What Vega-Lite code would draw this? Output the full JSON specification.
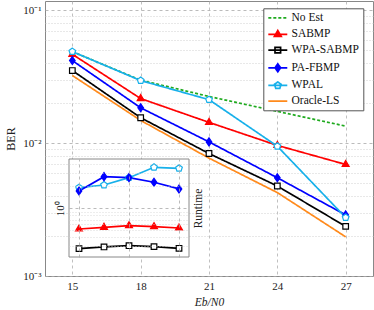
{
  "$schema": "https://vega.github.io/schema/vega-lite/v6.json",
  "width": 328,
  "height": 275,
  "autosize": "none",
  "padding": {"left": 45, "top": 1, "right": 1, "bottom": 34},
  "background": "white",
  "config": {
    "font": "Liberation Serif",
    "view": {"stroke": "#888", "strokeWidth": 1},
    "axis": {
      "labelFont": "Liberation Serif",
      "labelFontSize": 11,
      "labelColor": "#222",
      "titleFont": "Liberation Serif",
      "titleFontSize": 12,
      "titleFontWeight": "normal",
      "titleColor": "#222",
      "domain": false,
      "ticks": false,
      "gridColor": "#b0b0b0",
      "gridWidth": 0.8
    }
  },
  "datasets": {
    "ber": [
      {"series": "No Est", "snr": 15, "ber": 0.0487},
      {"series": "No Est", "snr": 18, "ber": 0.0297},
      {"series": "No Est", "snr": 21, "ber": 0.0224},
      {"series": "No Est", "snr": 24, "ber": 0.0173},
      {"series": "No Est", "snr": 27, "ber": 0.0134},
      {"series": "SABMP", "snr": 15, "ber": 0.0465},
      {"series": "SABMP", "snr": 18, "ber": 0.0216},
      {"series": "SABMP", "snr": 21, "ber": 0.0143},
      {"series": "SABMP", "snr": 24, "ber": 0.0096},
      {"series": "SABMP", "snr": 27, "ber": 0.0069},
      {"series": "WPA-SABMP", "snr": 15, "ber": 0.0351},
      {"series": "WPA-SABMP", "snr": 18, "ber": 0.0155},
      {"series": "WPA-SABMP", "snr": 21, "ber": 0.00834},
      {"series": "WPA-SABMP", "snr": 24, "ber": 0.00475},
      {"series": "WPA-SABMP", "snr": 27, "ber": 0.00236},
      {"series": "PA-FBMP", "snr": 15, "ber": 0.0417},
      {"series": "PA-FBMP", "snr": 18, "ber": 0.0184},
      {"series": "PA-FBMP", "snr": 21, "ber": 0.0102},
      {"series": "PA-FBMP", "snr": 24, "ber": 0.00548},
      {"series": "PA-FBMP", "snr": 27, "ber": 0.00288},
      {"series": "WPAL", "snr": 15, "ber": 0.0487},
      {"series": "WPAL", "snr": 18, "ber": 0.0295},
      {"series": "WPAL", "snr": 21, "ber": 0.0212},
      {"series": "WPAL", "snr": 24, "ber": 0.00946},
      {"series": "WPAL", "snr": 27, "ber": 0.00275},
      {"series": "Oracle-LS", "snr": 15, "ber": 0.0322},
      {"series": "Oracle-LS", "snr": 18, "ber": 0.0148},
      {"series": "Oracle-LS", "snr": 21, "ber": 0.0077},
      {"series": "Oracle-LS", "snr": 24, "ber": 0.00424},
      {"series": "Oracle-LS", "snr": 27, "ber": 0.00197}
    ],
    "runtime": [
      {"series": "WPAL", "snr": 15, "runtime": 1.915},
      {"series": "WPAL", "snr": 18, "runtime": 2.085},
      {"series": "WPAL", "snr": 21, "runtime": 2.625},
      {"series": "WPAL", "snr": 24, "runtime": 3.64},
      {"series": "WPAL", "snr": 27, "runtime": 3.53},
      {"series": "PA-FBMP", "snr": 15, "runtime": 1.726},
      {"series": "PA-FBMP", "snr": 18, "runtime": 2.71},
      {"series": "PA-FBMP", "snr": 21, "runtime": 2.63},
      {"series": "PA-FBMP", "snr": 24, "runtime": 2.27},
      {"series": "PA-FBMP", "snr": 27, "runtime": 1.84},
      {"series": "SABMP", "snr": 15, "runtime": 0.52},
      {"series": "SABMP", "snr": 18, "runtime": 0.549},
      {"series": "SABMP", "snr": 21, "runtime": 0.578},
      {"series": "SABMP", "snr": 24, "runtime": 0.56},
      {"series": "SABMP", "snr": 27, "runtime": 0.537},
      {"series": "WPA-SABMP", "snr": 15, "runtime": 0.28},
      {"series": "WPA-SABMP", "snr": 18, "runtime": 0.295},
      {"series": "WPA-SABMP", "snr": 21, "runtime": 0.307},
      {"series": "WPA-SABMP", "snr": 24, "runtime": 0.298},
      {"series": "WPA-SABMP", "snr": 27, "runtime": 0.283}
    ]
  },
  "layer": [
    {
      "data": {"name": "ber"},
      "encoding": {
        "x": {
          "field": "snr", "type": "quantitative",
          "scale": {"domain": [13.8, 28.2], "nice": false, "zero": false},
          "axis": {"values": [15, 18, 21, 24, 27], "title": "Eb/N0", "titleFontStyle": "italic", "titleFontSize": 11.5, "grid": true, "gridDash": [3, 3], "labelPadding": 4, "titlePadding": 5}
        },
        "y": {
          "field": "ber", "type": "quantitative",
          "scale": {"type": "log", "domain": [0.001, 0.117], "nice": false},
          "axis": {
            "values": [0.001, 0.002, 0.003, 0.004, 0.005, 0.006, 0.007, 0.008, 0.009, 0.01, 0.02, 0.03, 0.04, 0.05, 0.06, 0.07, 0.08, 0.09, 0.1],
            "labelExpr": "datum.value == 0.1 ? '10⁻¹' : datum.value == 0.01 ? '10⁻²' : datum.value == 0.001 ? '10⁻³' : ''",
            "title": "BER", "titlePadding": 5, "labelPadding": 4,
            "grid": true,
            "gridDash": {"condition": {"test": "datum.value == 0.1 || datum.value == 0.01 || datum.value == 0.001", "value": [3, 3]}, "value": [1, 2]},
            "gridColor": {"condition": {"test": "datum.value == 0.1 || datum.value == 0.01 || datum.value == 0.001", "value": "#aaaaaa"}, "value": "#c4c4c4"}
          }
        }
      },
      "layer": [
        {
          "mark": {"type": "line", "strokeWidth": 1.7},
          "encoding": {
            "color": {
              "field": "series", "type": "nominal",
              "scale": {"domain": ["No Est", "SABMP", "WPA-SABMP", "PA-FBMP", "WPAL", "Oracle-LS"], "range": ["#1faa1f", "#ff0000", "#000000", "#0000ff", "#17b0ea", "#ff8a1c"]},
              "legend": {
                "title": null, "orient": "none", "legendX": 218.3, "legendY": 7.3,
                "fillColor": "white", "strokeColor": "#555", "padding": 3.5, "cornerRadius": 0,
                "symbolSize": 90, "symbolStrokeWidth": 1.7, "symbolOffset": 5, "labelOffset": 7.7,
                "labelFont": "Liberation Serif", "labelFontSize": 11.5, "labelColor": "#111", "rowPadding": 2.66,
                "encode": {"symbols": {"update": {
                  "shape": {"signal": "datum.value === 'SABMP' ? 'M-2,0H2M0,-0.84L0.73,0.42L-0.73,0.42Z' : datum.value === 'WPA-SABMP' ? 'M-2,0H2M-0.59,-0.59H0.59V0.59H-0.59Z' : datum.value === 'PA-FBMP' ? 'M-2,0H2M0,-0.84L0.59,0L0,0.84L-0.59,0Z' : datum.value === 'WPAL' ? 'M-2,0H2M0,-0.74L0.7,-0.23L0.43,0.6L-0.43,0.6L-0.7,-0.23Z' : 'M-2,0H2'"},
                  "fill": {"signal": "datum.value === 'SABMP' ? '#ff0000' : datum.value === 'PA-FBMP' ? '#0000ff' : datum.value === 'WPA-SABMP' || datum.value === 'WPAL' ? '#ffffff' : 'transparent'"},
                  "strokeDash": {"signal": "datum.value === 'No Est' ? [3, 2] : [1, 0]"}
                }}}
              }
            },
            "strokeDash": {
              "field": "series", "type": "nominal",
              "scale": {"domain": ["No Est", "SABMP", "WPA-SABMP", "PA-FBMP", "WPAL", "Oracle-LS"], "range": [[3, 2], [1, 0], [1, 0], [1, 0], [1, 0], [1, 0]]},
              "legend": null
            }
          }
        },
        {
          "transform": [{"filter": "datum.series != 'No Est' && datum.series != 'Oracle-LS'"}],
          "mark": {"type": "point", "size": 64, "strokeWidth": 1.2, "opacity": 1},
          "encoding": {
            "shape": {
              "field": "series", "type": "nominal",
              "scale": {"domain": ["SABMP", "WPA-SABMP", "PA-FBMP", "WPAL"], "range": ["M0,-1L0.866,0.5L-0.866,0.5Z", "M-0.7,-0.7H0.7V0.7H-0.7Z", "M0,-1L0.7,0L0,1L-0.7,0Z", "M0,-0.875L0.832,-0.27L0.514,0.708L-0.514,0.708L-0.832,-0.27Z"]},
              "legend": null
            },
            "fill": {
              "field": "series", "type": "nominal",
              "scale": {"domain": ["SABMP", "WPA-SABMP", "PA-FBMP", "WPAL"], "range": ["#ff0000", "#ffffff", "#0000ff", "#ffffff"]},
              "legend": null
            },
            "stroke": {
              "field": "series", "type": "nominal",
              "scale": {"domain": ["SABMP", "WPA-SABMP", "PA-FBMP", "WPAL"], "range": ["#ff0000", "#000000", "#0000ff", "#17b0ea"]},
              "legend": null
            }
          }
        }
      ]
    },
    {
      "layer": [
        {
          "data": {"name": "runtime"},
          "transform": [{"aggregate": [{"op": "count", "as": "n"}]}],
          "mark": {"type": "rect", "fill": "white", "stroke": "#888", "strokeWidth": 1},
          "encoding": {
            "x": {"datum": 13.8, "type": "quantitative"},
            "x2": {"datum": 28.2},
            "y": {"datum": 0.215, "type": "quantitative"},
            "y2": {"datum": 4.73}
          }
        },
        {
          "data": {"name": "runtime"},
          "mark": {"type": "line", "strokeWidth": 1.7},
          "encoding": {
            "x": {
              "field": "snr", "type": "quantitative",
              "scale": {"domain": [13.8, 28.2], "range": [24, 144], "nice": false, "zero": false},
              "axis": {"orient": "top", "values": [15, 21, 27], "labels": false, "title": null, "grid": true, "gridDash": [3, 3], "gridColor": "#aaaaaa", "zindex": 1}
            },
            "y": {
              "field": "runtime", "type": "quantitative",
              "scale": {"type": "log", "domain": [0.215, 4.73], "range": [256, 158], "nice": false},
              "axis": {
                "orient": "left", "offset": -24, "zindex": 1,
                "values": [0.3, 0.4, 0.5, 0.6, 0.7, 0.8, 0.9, 1, 2, 3, 4],
                "labelExpr": "datum.value == 1 ? '10⁰' : ''",
                "labelAngle": 270, "labelAlign": "center", "labelBaseline": "bottom", "labelPadding": 4,
                "title": "Runtime", "titleAngle": 270, "titleX": 129, "titleY": 207, "titleAlign": "center", "titleBaseline": "middle", "titleFontSize": 11.5,
                "grid": true,
                "gridDash": {"condition": {"test": "datum.value == 1", "value": [3, 3]}, "value": [1, 2]},
                "gridColor": {"condition": {"test": "datum.value == 1", "value": "#aaaaaa"}, "value": "#d0d0d0"}
              }
            },
            "color": {"field": "series", "type": "nominal", "legend": null}
          }
        },
        {
          "data": {"name": "runtime"},
          "mark": {"type": "point", "size": 64, "strokeWidth": 1.2, "opacity": 1},
          "encoding": {
            "x": {"field": "snr", "type": "quantitative"},
            "y": {"field": "runtime", "type": "quantitative"},
            "shape": {"field": "series", "type": "nominal", "legend": null},
            "fill": {"field": "series", "type": "nominal", "legend": null},
            "stroke": {"field": "series", "type": "nominal", "legend": null}
          }
        }
      ]
    }
  ],
  "resolve": {"scale": {"x": "independent", "y": "independent"}}
}
